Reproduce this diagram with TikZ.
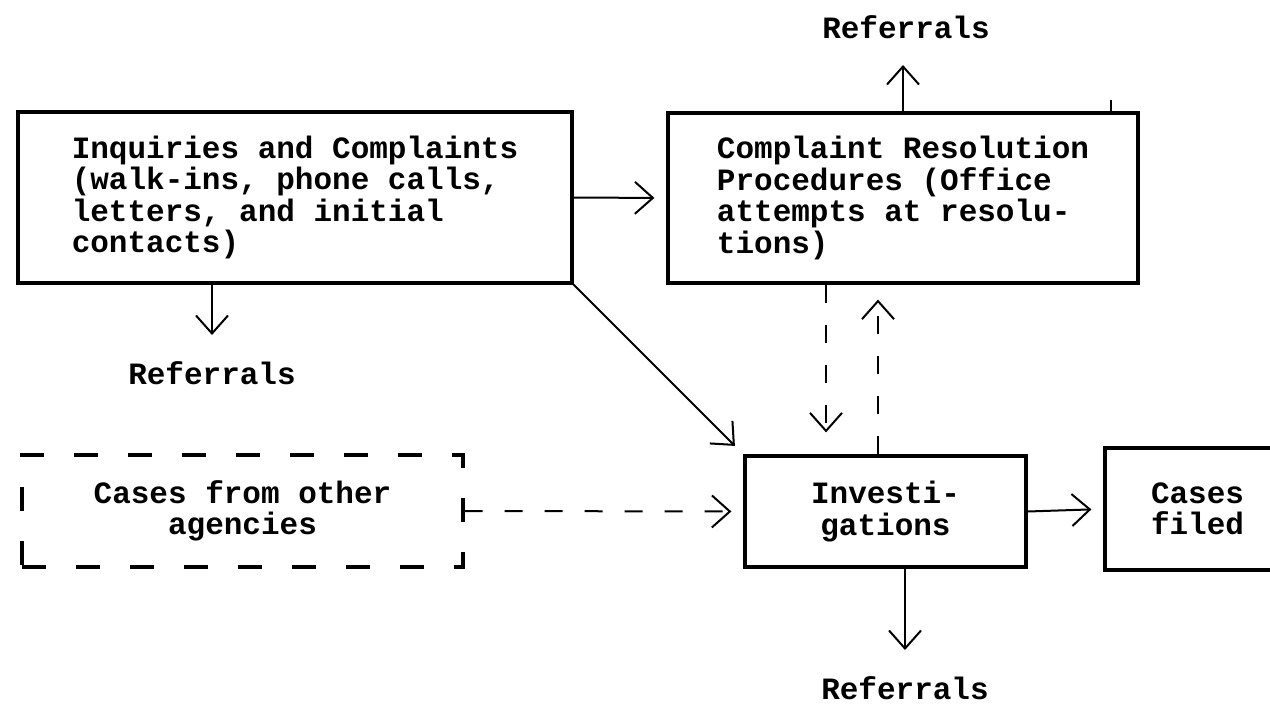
\documentclass[tikz,border=0pt]{standalone}
\usepackage{fontspec}
\setmonofont{Liberation Mono}
\usetikzlibrary{arrows.meta}

\begin{document}
\begin{tikzpicture}[x=0.5pt,y=-0.5pt,
    font=\ttfamily\bfseries\fontsize{15.5}{15.7}\selectfont,
    box/.style={draw, line width=1.6pt, inner sep=0pt},
    dbox/.style={box, dash pattern=on 12pt off 15pt},
    arr/.style={line width=1pt, -{Straight Barb[length=9pt,width=16pt]}, shorten >=6pt},
    dsh/.style={dash pattern=on 9pt off 11pt},
    lbl/.style={inner sep=7pt}]
        \clip (0,0) rectangle (1270,703);
        % Boxes
        \node[box, align=left, minimum width=277pt, minimum height=85.5pt] (inq) at (295,197.5)
            {Inquiries and Complaints\\(walk-ins, phone calls,\\letters, and initial\\contacts)};
        \node[box, align=left, minimum width=235pt, minimum height=85pt] (crp) at (903,198)
            {Complaint Resolution\\Procedures (Office\\attempts at resolu-\\tions)};
        \node[dbox, align=center, minimum width=220.5pt, minimum height=56pt] (oth) at (242.5,511)
            {Cases from other\\agencies};
        \node[box, align=center, minimum width=140.5pt, minimum height=55.5pt] (inv) at (885.5,511.5)
            {Investi-\\gations};
        \node[box, align=center, minimum width=92.5pt, minimum height=61pt] (fil) at (1197.5,509)
            {Cases\\filed};
        % Referrals labels
        \node[lbl] (refA) at (212,373) {Referrals};
        \node[lbl] (refB) at (906,27) {Referrals};
        \node[lbl] (refC) at (905,688) {Referrals};
        \coordinate (dn) at (826,0);
        \coordinate (up) at (878,0);
        \coordinate (tick) at (1111,0);
        % Solid flows
        \draw[arr] (inq.east) -- (crp.west);
        \draw[arr] (inq.south east) -- (inv.north west);
        \draw[arr] (inv.east) -- (fil.west);
        \draw[arr] (inq.south -| refA) -- (refA);
        \draw[arr] (crp.north) -- (crp.north |- refB.south);
        \draw[arr] (inv.south -| refC) -- (refC);
        % Dashed flows
        \draw[arr, dsh] (oth.east) -- (inv.west);
        \draw[arr, dsh, shorten >=11pt] (crp.south -| dn) -- (inv.north -| dn);
        \draw[arr, dsh, shorten >=7.5pt] (inv.north -| up) -- (crp.south -| up);
        % small mark on top edge
        \draw[line width=1pt] (crp.north -| tick) -- ++(0,-11);
    \end{tikzpicture}
\end{document}
